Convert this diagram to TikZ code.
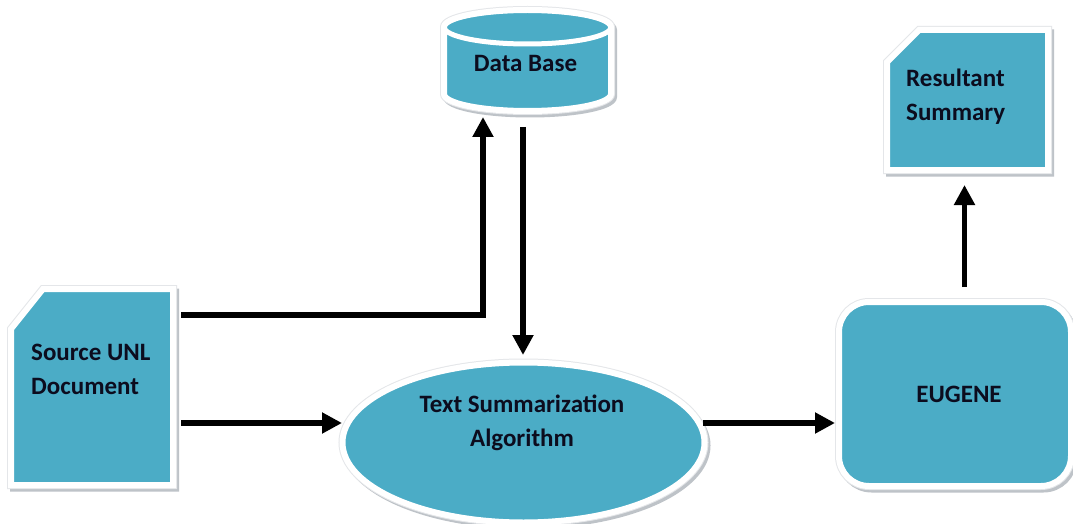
\documentclass[tikz,border=0pt]{standalone}
\usepackage{fontspec}
\setmainfont{Carlito}
\usetikzlibrary{arrows.meta,calc,shapes.geometric}
\definecolor{cblue}{RGB}{75,172,198}
\definecolor{shadowc}{RGB}{190,195,200}
\definecolor{edgec}{RGB}{228,230,233}
\definecolor{txtc}{RGB}{12,12,30}
\tikzset{
  cshape/.style={fill=cblue, draw=white, line width=6pt,
    preaction={draw=shadowc, line width=7pt, transform canvas={xshift=2.5pt,yshift=-3pt}},
    preaction={draw=edgec, line width=8pt}},
  boxnode/.style={inner sep=0pt, outer sep=0pt},
  txt/.style={font=\fontsize{25}{34}\selectfont\bfseries, text=txtc, align=left, inner sep=0pt},
  arr/.style={line width=5.5pt, -{Triangle[length=20pt,width=20pt]}},
}
\begin{document}
\begin{tikzpicture}[x=1pt,y=-1pt]
\fill[white] (0,0) rectangle (1073,524);
\useasboundingbox (0,0) rectangle (1073,524);

% box placeholders
\node[boxnode, minimum width=162pt, minimum height=196pt] (src) at (92,387) {};
\node[boxnode, minimum width=161pt, minimum height=140pt] (res) at (967.5,100) {};
\node[boxnode, minimum width=167pt, minimum height=101pt] (db) at (527.5,60.5) {};

% source document
\draw[cshape] ($(src.north west)+(0,40)$) -- ($(src.north west)+(32,0)$) -- (src.north east) -- (src.south east) -- (src.south west) -- cycle;
% resultant summary
\draw[cshape] ($(res.north west)+(0,32)$) -- ($(res.north west)+(32,0)$) -- (res.north east) -- (res.south east) -- (res.south west) -- cycle;
% data base cylinder
\draw[cshape] (444,27) -- (444,94) .. controls (444,103.39) and (481.38,111) .. (527.5,111)
  .. controls (573.62,111) and (611,103.39) .. (611,94) -- (611,27)
  .. controls (611,17.61) and (573.62,10) .. (527.5,10)
  .. controls (481.38,10) and (444,17.61) .. (444,27) -- cycle;
\draw[white, line width=5pt] (527.5,27) ellipse [x radius=83.5, y radius=17];

% algorithm ellipse and EUGENE
\node[ellipse, cshape, minimum width=362pt, minimum height=160pt, inner sep=0pt] (alg) at (523.5,442.5) {};
\node[rectangle, rounded corners=30pt, cshape, minimum width=232pt, minimum height=184pt, inner sep=0pt] (eug) at (955,394) {};

% texts
\node[txt, anchor=west] (srct) at (31,369) {Source UNL\\Document};
\node[txt, anchor=west] (rest) at (906,97) {Resultant\\Summary};
\node[txt] (dbt) at ($(db.center)+(-2,3)$) {Data Base};
\node[txt, align=center] (algt) at (522,423) {Text Summarization\\Algorithm};
\node[txt] (eugt) at (959,394) {EUGENE};

% connectors
\draw[arr] ($(src.north east)+(8,26)$) -| ($(db.south)+(-44.5,6)$);
\draw[arr] ($(db.south)+(-4.5,16)$) -- ($(alg.north)+(-0.5,-4.5)$);
\draw[arr] ($(src.east)+(8,36)$) -- ($(alg.west)+(2.5,-19.5)$);
\draw[arr] ($(alg.east)+(-4.5,-19.5)$) -- ($(eug.west)+(-1,29)$);
\draw[arr] ($(eug.north)+(9.5,-12)$) -- ($(res.south)+(-3,15)$);
\end{tikzpicture}
\end{document}
